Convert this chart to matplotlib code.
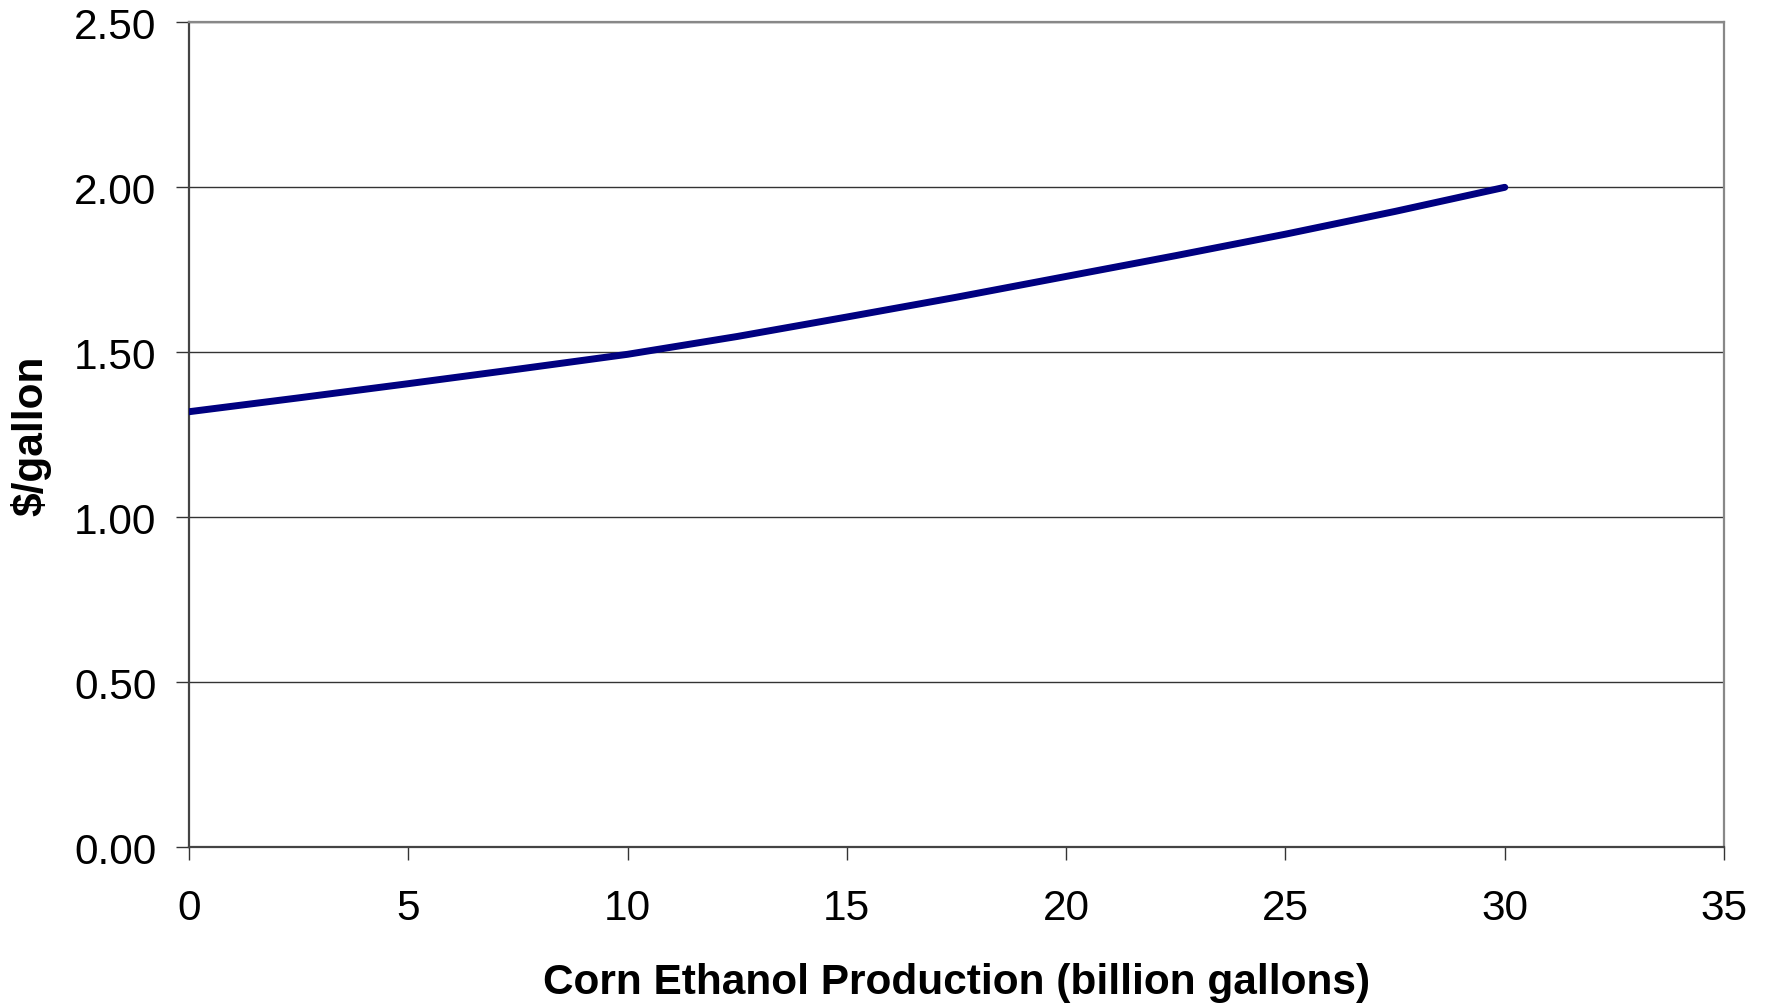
import matplotlib
matplotlib.use("Agg")
import matplotlib.pyplot as plt

production = [0, 2.5, 5, 7.5, 10, 12.5, 15, 17.5, 20, 22.5, 25, 27.5, 30]
price = [1.32, 1.362, 1.405, 1.449, 1.494, 1.548, 1.607, 1.667, 1.730, 1.793, 1.858, 1.927, 2.00]

x_ticks = [0, 5, 10, 15, 20, 25, 30, 35]
y_ticks = [0.0, 0.5, 1.0, 1.5, 2.0, 2.5]
y_tick_labels = ["0.00", "0.50", "1.00", "1.50", "2.00", "2.50"]

plt.rcParams['font.family'] = ['Liberation Sans', 'DejaVu Sans']

fig = plt.figure(figsize=(17.69, 10.04), dpi=100)
ax = fig.add_axes([0.1068, 0.155, 0.9746 - 0.1068, 0.9768 - 0.155])

ax.plot(production, price, color='#000080', linewidth=5.0, solid_capstyle='round',
        solid_joinstyle='round', zorder=3)

ax.set_xlim(0, 35)
ax.set_ylim(0, 2.5)
ax.set_xticks(x_ticks)
ax.set_yticks(y_ticks)
ax.set_yticklabels(y_tick_labels)

ax.grid(axis='y', color='#333333', linewidth=1.0)
ax.set_axisbelow(True)

for side in ['top', 'right']:
    ax.spines[side].set_color('#888888')
    ax.spines[side].set_linewidth(1.6)
for side in ['left', 'bottom']:
    ax.spines[side].set_color('#444444')
    ax.spines[side].set_linewidth(1.6)

ax.tick_params(axis='both', direction='out', length=9.5, width=1.0, color='#333333',
               labelsize=30.5, labelcolor='black')
ax.tick_params(axis='y', pad=14)
ax.tick_params(axis='x', pad=20)

ax.set_xlabel('Corn Ethanol Production (billion gallons)', fontsize=30.5, fontweight='bold',
              labelpad=24)
ax.set_ylabel('$/gallon', fontsize=30.5, fontweight='bold', labelpad=16)

fig.savefig('out.png', dpi=100, facecolor='white')
